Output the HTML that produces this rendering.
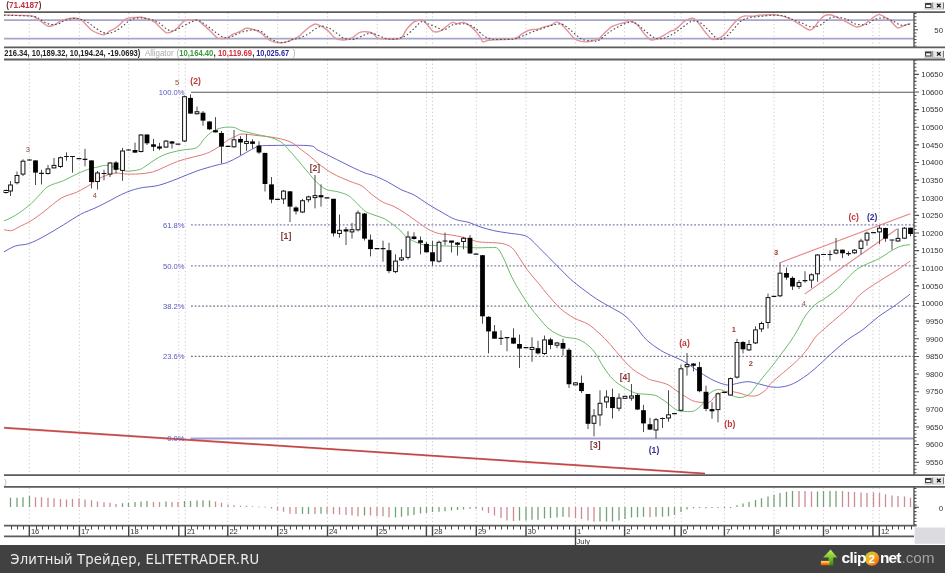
<!DOCTYPE html>
<html><head><meta charset="utf-8"><title>Chart</title><style>html,body{margin:0;padding:0;background:#fff;width:945px;height:573px;overflow:hidden}</style></head><body>
<svg width="945" height="573" viewBox="0 0 945 573" style="display:block">
<rect x="0" y="0" width="945" height="573" fill="#fff"/>
<path d="M29.3 12.8V46.5M29.3 60V474.2M29.3 487.6V525.2M79.4 12.8V46.5M79.4 60V474.2M79.4 487.6V525.2M128.7 12.8V46.5M128.7 60V474.2M128.7 487.6V525.2M178.8 12.8V46.5M178.8 60V474.2M178.8 487.6V525.2M185.3 12.8V46.5M185.3 60V474.2M185.3 487.6V525.2M227.8 12.8V46.5M227.8 60V474.2M227.8 487.6V525.2M277.7 12.8V46.5M277.7 60V474.2M277.7 487.6V525.2M327.5 12.8V46.5M327.5 60V474.2M327.5 487.6V525.2M377.2 12.8V46.5M377.2 60V474.2M377.2 487.6V525.2M426.4 12.8V46.5M426.4 60V474.2M426.4 487.6V525.2M432.5 12.8V46.5M432.5 60V474.2M432.5 487.6V525.2M476.3 12.8V46.5M476.3 60V474.2M476.3 487.6V525.2M526 12.8V46.5M526 60V474.2M526 487.6V525.2M575.5 12.8V46.5M575.5 60V474.2M575.5 487.6V525.2M624.6 12.8V46.5M624.6 60V474.2M624.6 487.6V525.2M674.6 12.8V46.5M674.6 60V474.2M674.6 487.6V525.2M681.2 12.8V46.5M681.2 60V474.2M681.2 487.6V525.2M724.4 12.8V46.5M724.4 60V474.2M724.4 487.6V525.2M774 12.8V46.5M774 60V474.2M774 487.6V525.2M823.5 12.8V46.5M823.5 60V474.2M823.5 487.6V525.2M872.9 12.8V46.5M872.9 60V474.2M872.9 487.6V525.2M879.3 12.8V46.5M879.3 60V474.2M879.3 487.6V525.2" stroke="#cacaca" stroke-width="1" stroke-dasharray="1.2 2.5" fill="none"/>
<g id="osc">
<path d="M4 20.1H914M4 38.6H914" stroke="#a6a6cc" stroke-width="1.8" fill="none"/>
<path d="M4 15.1C8.42 15.18 25.1 15.08 30.5 15.6C35.9 16.12 34.43 17.07 36.4 18.2C38.37 19.33 40.32 21.05 42.3 22.4C44.28 23.75 46.32 25.88 48.3 26.3C50.28 26.72 52.52 25.55 54.2 24.9C55.88 24.25 56.85 23.23 58.4 22.4C59.95 21.57 61.38 20.6 63.5 19.9C65.62 19.2 68.98 18.48 71.1 18.2C73.22 17.92 74.5 17.92 76.2 18.2C77.9 18.48 79.6 18.78 81.3 19.9C83 21.02 84.72 23.22 86.4 24.9C88.08 26.58 89.43 28.58 91.4 30C93.37 31.42 96.08 32.6 98.2 33.4C100.32 34.2 102.12 35.22 104.1 34.8C106.08 34.38 108.27 31.98 110.1 30.9C111.93 29.82 113.27 29.58 115.1 28.3C116.93 27.02 119.4 24.75 121.1 23.2C122.8 21.65 123.75 19.9 125.3 19C126.85 18.1 127.87 18.08 130.4 17.8C132.93 17.52 137.68 17.1 140.5 17.3C143.32 17.5 145.72 18.63 147.3 19C148.88 19.37 148.7 18.93 150 19.5C151.3 20.07 153.4 21.07 155.1 22.4C156.8 23.73 158.37 25.8 160.2 27.5C162.03 29.2 164.13 31.9 166.1 32.6C168.07 33.3 170.03 32.55 172 31.7C173.97 30.85 175.92 29.25 177.9 27.5C179.88 25.75 182.07 22.42 183.9 21.2C185.73 19.98 186.65 20.37 188.9 20.2C191.15 20.03 195.13 19.55 197.4 20.2C199.67 20.85 200.52 22.47 202.5 24.1C204.48 25.73 206.9 27.75 209.3 30C211.7 32.25 214.65 36.18 216.9 37.6C219.15 39.02 220.97 38.5 222.8 38.5C224.63 38.5 226.2 38.32 227.9 37.6C229.6 36.88 231.03 35.18 233 34.2C234.97 33.22 237.45 32.68 239.7 31.7C241.95 30.72 243.95 28.58 246.5 28.3C249.05 28.02 252.45 29.15 255 30C257.55 30.85 259.83 31.98 261.8 33.4C263.77 34.82 264.83 37.08 266.8 38.5C268.77 39.92 270.82 41.22 273.6 41.9C276.38 42.58 280.72 42.83 283.5 42.6C286.28 42.37 288.32 41.2 290.3 40.5C292.28 39.8 293.7 39.32 295.4 38.4C297.1 37.48 298.67 36.48 300.5 35C302.33 33.52 304.57 31.05 306.4 29.5C308.23 27.95 310.02 26.62 311.5 25.7C312.98 24.78 314.03 24.08 315.3 24C316.57 23.92 317.62 24.57 319.1 25.2C320.58 25.83 322.5 26.67 324.2 27.8C325.9 28.93 327.75 30.52 329.3 32C330.85 33.48 332.1 35.5 333.5 36.7C334.9 37.9 335.67 38.68 337.7 39.2C339.73 39.72 343.23 40.07 345.7 39.8C348.17 39.53 350.23 38.8 352.5 37.6C354.77 36.4 357.05 33.58 359.3 32.6C361.55 31.62 363.75 31.57 366 31.7C368.25 31.83 370.82 32.33 372.8 33.4C374.78 34.47 375.63 37.17 377.9 38.1C380.17 39.03 383.58 38.8 386.4 39C389.22 39.2 392.27 39.53 394.8 39.3C397.33 39.07 399.62 39.28 401.6 37.6C403.58 35.92 404.73 31.73 406.7 29.2C408.67 26.67 411.43 23.9 413.4 22.4C415.37 20.9 416.8 20.48 418.5 20.2C420.2 19.92 421.9 19.63 423.6 20.7C425.3 21.77 427 24.77 428.7 26.6C430.4 28.43 431.83 30.98 433.8 31.7C435.77 32.42 438.25 31.88 440.5 30.9C442.75 29.92 445.32 27.22 447.3 25.8C449.28 24.38 450.82 22.77 452.4 22.4C453.98 22.03 454.95 23.6 456.8 23.6C458.65 23.6 461.53 22.18 463.5 22.4C465.47 22.62 466.62 23.48 468.6 24.9C470.58 26.32 473.42 28.78 475.4 30.9C477.38 33.02 479.23 35.77 480.5 37.6C481.77 39.43 481.6 41.47 483 41.9C484.4 42.33 486.5 40.55 488.9 40.2C491.3 39.85 494.28 39.95 497.4 39.8C500.52 39.65 504.5 39.58 507.6 39.3C510.7 39.02 513.47 39.08 516 38.1C518.53 37.12 520.53 34.75 522.8 33.4C525.07 32.05 527.07 30.7 529.6 30C532.13 29.3 535.47 29.77 538 29.2C540.53 28.63 542.53 27.32 544.8 26.6C547.07 25.88 549.62 25.68 551.6 24.9C553.58 24.12 555 21.95 556.7 21.9C558.4 21.85 560.12 23.25 561.8 24.6C563.48 25.95 565.12 28.12 566.8 30C568.48 31.88 570.2 34.2 571.9 35.9C573.6 37.6 574.73 39.2 577 40.2C579.27 41.2 582.68 41.9 585.5 41.9C588.32 41.9 591.65 40.72 593.9 40.2C596.15 39.68 597.23 40 599 38.8C600.77 37.6 602.35 35.03 604.5 33C606.65 30.97 609.55 28.08 611.9 26.6C614.25 25.12 616.35 24.8 618.6 24.1C620.85 23.4 623.57 22.97 625.4 22.4C627.23 21.83 628.18 20.7 629.6 20.7C631.02 20.7 632.35 21.42 633.9 22.4C635.45 23.38 637.22 24.77 638.9 26.6C640.58 28.43 642.02 31.2 644 33.4C645.98 35.6 648.53 38.95 650.8 39.8C653.07 40.65 655.35 39.28 657.6 38.5C659.85 37.72 662.05 36.37 664.3 35.1C666.55 33.83 669.4 31.75 671.1 30.9C672.8 30.05 673.08 30.85 674.5 30C675.92 29.15 677.9 27.27 679.6 25.8C681.3 24.33 682.73 22.47 684.7 21.2C686.67 19.93 689.72 18.57 691.4 18.2C693.08 17.83 693.38 17.88 694.8 19C696.22 20.12 698.2 22.78 699.9 24.9C701.6 27.02 703.02 29.35 705 31.7C706.98 34.05 709.55 37.87 711.8 39C714.05 40.13 716.25 39.43 718.5 38.5C720.75 37.57 723.32 35.23 725.3 33.4C727.28 31.57 728.42 29.75 730.4 27.5C732.38 25.25 734.95 21.8 737.2 19.9C739.45 18 741.37 16.7 743.9 16.1C746.43 15.5 749.88 16.45 752.4 16.3C754.92 16.15 755.8 15.45 759 15.2C762.2 14.95 768 14.73 771.6 14.8C775.2 14.87 777.9 15.08 780.6 15.6C783.3 16.12 785.4 16.92 787.8 17.9C790.2 18.88 792.6 20.15 795 21.5C797.4 22.85 799.8 24.58 802.2 26C804.6 27.42 807.45 29.7 809.4 30C811.35 30.3 812.4 29.22 813.9 27.8C815.4 26.38 816.75 23.45 818.4 21.5C820.05 19.55 822 17.22 823.8 16.1C825.6 14.98 827.42 14.8 829.2 14.8C830.98 14.8 832.42 15.28 834.5 16.1C836.58 16.92 839.3 18.5 841.7 19.7C844.1 20.9 846.5 22.1 848.9 23.3C851.3 24.5 853.7 26.6 856.1 26.9C858.5 27.2 860.9 26.3 863.3 25.1C865.7 23.9 868.1 21.42 870.5 19.7C872.9 17.98 875.6 15.4 877.7 14.8C879.8 14.2 881 15.13 883.1 16.1C885.2 17.07 887.9 18.65 890.3 20.6C892.7 22.55 895.4 26.9 897.5 27.8C899.6 28.7 900.8 26.75 902.9 26C905 25.25 908.9 23.75 910.1 23.3" stroke="#e4959b" stroke-width="1.4" fill="none" stroke-linejoin="round"/>
<path d="M4 15.1C8.98 15.33 27.8 15.7 33.9 16.5C40 17.3 38.07 18.63 40.6 19.9C43.13 21.17 46.27 23.4 49.1 24.1C51.93 24.8 55.07 24.67 57.6 24.1C60.13 23.53 61.77 21.63 64.3 20.7C66.83 19.77 70.25 18.78 72.8 18.5C75.35 18.22 77.33 18.5 79.6 19C81.87 19.5 83.87 20.08 86.4 21.5C88.93 22.92 91.98 25.65 94.8 27.5C97.62 29.35 100.75 31.67 103.3 32.6C105.85 33.53 107.57 33.67 110.1 33.1C112.63 32.53 115.97 30.7 118.5 29.2C121.03 27.7 123.32 25.65 125.3 24.1C127.28 22.55 127.87 20.95 130.4 19.9C132.93 18.85 137.12 17.87 140.5 17.8C143.88 17.73 147.7 18.73 150.7 19.5C153.7 20.27 155.8 20.78 158.5 22.4C161.2 24.02 164.37 27.78 166.9 29.2C169.43 30.62 171.15 31.33 173.7 30.9C176.25 30.47 179.38 28.02 182.2 26.6C185.02 25.18 188.07 23.47 190.6 22.4C193.13 21.33 194.85 19.78 197.4 20.2C199.95 20.62 202.8 22.83 205.9 24.9C209 26.97 212.9 30.48 216 32.6C219.1 34.72 221.67 37.05 224.5 37.6C227.33 38.15 229.9 36.88 233 35.9C236.1 34.92 239.72 32.68 243.1 31.7C246.48 30.72 250.18 30 253.3 30C256.42 30 259.27 30.43 261.8 31.7C264.33 32.97 265.72 35.85 268.5 37.6C271.28 39.35 275.85 41.43 278.5 42.2C281.15 42.97 282.72 42.35 284.4 42.2C286.08 42.05 287.33 41.73 288.6 41.3C289.87 40.87 290.73 40.02 292 39.6C293.27 39.18 294.5 39.22 296.2 38.8C297.9 38.38 300.35 37.8 302.2 37.1C304.05 36.4 305.9 35.38 307.3 34.6C308.7 33.82 309.4 33.25 310.6 32.4C311.8 31.55 313.3 30.33 314.5 29.5C315.7 28.67 316.6 27.97 317.8 27.4C319 26.83 320.35 26.18 321.7 26.1C323.05 26.02 324.63 26.55 325.9 26.9C327.17 27.25 328.1 27.57 329.3 28.2C330.5 28.83 331.83 29.85 333.1 30.7C334.37 31.55 335.7 32.45 336.9 33.3C338.1 34.15 339.17 34.95 340.3 35.8C341.43 36.65 342.08 37.83 343.7 38.4C345.32 38.97 348.25 39.05 350 39.2C351.75 39.35 351.82 39.98 354.2 39.3C356.58 38.62 361.48 36.13 364.3 35.1C367.12 34.07 368.55 32.97 371.1 33.1C373.65 33.23 376.78 34.92 379.6 35.9C382.42 36.88 384.9 38.57 388 39C391.1 39.43 395.08 39.15 398.2 38.5C401.32 37.85 403.88 36.93 406.7 35.1C409.52 33.27 412.57 29.77 415.1 27.5C417.63 25.23 419.63 22.07 421.9 21.5C424.17 20.93 426.15 23.1 428.7 24.1C431.25 25.1 434.67 26.52 437.2 27.5C439.73 28.48 441.37 30.43 443.9 30C446.43 29.57 449.97 25.88 452.4 24.9C454.83 23.92 456.08 24.23 458.5 24.1C460.92 23.97 464.08 23.4 466.9 24.1C469.72 24.8 472.57 26.33 475.4 28.3C478.23 30.27 481.08 34.07 483.9 35.9C486.72 37.73 488.92 38.73 492.3 39.3C495.68 39.87 500.53 39.35 504.2 39.3C507.87 39.25 511.2 39.57 514.3 39C517.4 38.43 519.68 37.12 522.8 35.9C525.92 34.68 529.62 32.97 533 31.7C536.38 30.43 539.72 29.43 543.1 28.3C546.48 27.17 550.18 25.6 553.3 24.9C556.42 24.2 559.27 23.53 561.8 24.1C564.33 24.67 566.25 26.62 568.5 28.3C570.75 29.98 573.03 32.37 575.3 34.2C577.57 36.03 579.28 38.17 582.1 39.3C584.92 40.43 589.38 40.85 592.2 41C595.02 41.15 596.28 41.6 599 40.2C601.72 38.8 605.23 34.87 608.5 32.6C611.77 30.33 615.22 28.3 618.6 26.6C621.98 24.9 625.97 22.97 628.8 22.4C631.63 21.83 633.07 21.93 635.6 23.2C638.13 24.47 640.9 27.6 644 30C647.1 32.4 651.1 36.18 654.2 37.6C657.3 39.02 659.78 38.92 662.6 38.5C665.42 38.08 667.98 36.8 671.1 35.1C674.22 33.4 677.92 30.57 681.3 28.3C684.68 26.03 688.3 22.48 691.4 21.5C694.5 20.52 697.07 20.98 699.9 22.4C702.73 23.82 705.58 27.32 708.4 30C711.22 32.68 714.27 37.08 716.8 38.5C719.33 39.92 721.05 39.77 723.6 38.5C726.15 37.23 729.28 33.73 732.1 30.9C734.92 28.07 737.68 23.68 740.5 21.5C743.32 19.32 745.75 18.63 749 17.8C752.25 16.97 755.93 16.93 760 16.5C764.07 16.07 769.37 15.27 773.4 15.2C777.43 15.13 780.9 15.35 784.2 16.1C787.5 16.85 790.2 18.5 793.2 19.7C796.2 20.9 799.2 22.1 802.2 23.3C805.2 24.5 808.2 26.6 811.2 26.9C814.2 27.2 817.5 26.3 820.2 25.1C822.9 23.9 825.02 21.05 827.4 19.7C829.78 18.35 831.52 17.15 834.5 17C837.48 16.85 841.7 17.6 845.3 18.8C848.9 20 852.5 23.3 856.1 24.2C859.7 25.1 863.9 24.95 866.9 24.2C869.9 23.45 871.4 20.75 874.1 19.7C876.8 18.65 880.1 17.75 883.1 17.9C886.1 18.05 889.1 19.4 892.1 20.6C895.1 21.8 898.1 24.5 901.1 25.1C904.1 25.7 908.6 24.35 910.1 24.2" stroke="#4a4a4a" stroke-width="1.1" stroke-dasharray="1.6 2.2" fill="none"/>
</g>
<path d="M4 12.1H945M4 47.4H945M4 59.5H945M4 475.2H945M4 486.9H945M4 525.7H916.5M4 536.4H914" stroke="#5c5c5c" stroke-width="1.8" fill="none"/>
<path d="M191 92.3H914" stroke="#555" stroke-width="1.1" fill="none"/>
<path d="M191 224.9H914M191 265.8H914" stroke="#7e7eac" stroke-width="1.3" stroke-dasharray="1.8 1.9" fill="none"/>
<path d="M191 306.2H914M191 356.4H914" stroke="#72728a" stroke-width="1.3" stroke-dasharray="1.8 1.9" fill="none"/>
<path d="M190.5 438.5H914" stroke="#a2a2d8" stroke-width="1.8" fill="none"/>
<path d="M4 427.9L705 473.8" stroke="#e84848" stroke-width="1.5" fill="none"/>
<path d="M4 427.2L705 473.1" stroke="#5a2424" stroke-width="0.8" fill="none" opacity="0.6"/>
<path d="M4 251.8C5.9 250.83 11.27 247.37 15.4 246C19.53 244.63 24 245.22 28.8 243.6C33.6 241.98 38.43 239.42 44.2 236.3C49.97 233.18 57.33 228.57 63.4 224.9C69.47 221.23 75.17 217.18 80.6 214.3C86.03 211.42 90.93 209.98 96 207.6C101.07 205.22 106.77 202.18 111 200C115.23 197.82 117.92 196.12 121.4 194.5C124.88 192.88 128.4 191.45 131.9 190.3C135.4 189.15 137.98 188.42 142.4 187.6C146.82 186.78 152.53 186.88 158.4 185.4C164.27 183.92 171.2 181.1 177.6 178.7C184 176.3 190.4 173.23 196.8 171C203.2 168.77 210.88 166.73 216 165.3C221.12 163.87 223.67 163.85 227.5 162.4C231.33 160.95 235.4 158.53 239 156.6C242.6 154.67 245.92 152.52 249.1 150.8C252.28 149.08 255.83 147.17 258.1 146.3C260.37 145.43 254.37 145.72 262.7 145.6C271.03 145.48 299.03 144.92 308.1 145.6C317.17 146.28 313.33 147.88 317.1 149.7C320.87 151.52 326.53 154.42 330.7 156.5C334.87 158.58 338.32 160.32 342.1 162.2C345.88 164.08 349.58 166 353.4 167.8C357.22 169.6 361.63 171.72 365 173C368.37 174.28 369.9 174.07 373.6 175.5C377.3 176.93 382.67 179.27 387.2 181.6C391.73 183.93 396.27 187.23 400.8 189.5C405.33 191.77 409.85 192.75 414.4 195.2C418.95 197.65 423.55 201.37 428.1 204.2C432.65 207.03 437.17 209.67 441.7 212.2C446.23 214.73 450.77 217.7 455.3 219.4C459.83 221.1 464.78 221.17 468.9 222.4C473.02 223.63 475.88 225.43 480 226.8C484.12 228.17 489.07 229.58 493.6 230.6C498.13 231.62 502.28 232.13 507.2 232.9C512.12 233.67 519.32 234.25 523.1 235.2C526.88 236.15 527.25 236.53 529.9 238.6C532.55 240.67 535.97 244.58 539 247.6C542.03 250.62 544.7 253.28 548.1 256.7C551.5 260.12 555.63 264.32 559.4 268.1C563.17 271.88 566.92 276 570.7 279.4C574.48 282.8 577.77 285.22 582.1 288.5C586.43 291.78 592 296.02 596.7 299.1C601.4 302.18 605.75 304.35 610.3 307C614.85 309.65 619.83 311.78 624 315C628.17 318.22 631.53 322.15 635.3 326.3C639.07 330.45 642.43 335.93 646.6 339.9C650.77 343.87 656.13 347.45 660.3 350.1C664.47 352.75 668.25 354.22 671.6 355.8C674.95 357.38 677.48 358.12 680.4 359.6C683.32 361.08 685.77 362.53 689.1 364.7C692.43 366.87 696.25 369.95 700.4 372.6C704.55 375.25 709.45 378.52 714 380.6C718.55 382.68 723.92 384.62 727.7 385.1C731.48 385.58 733.3 384.07 736.7 383.5C740.1 382.93 744.32 381.62 748.1 381.7C751.88 381.78 755.62 383.13 759.4 384C763.18 384.87 767.02 386.42 770.8 386.9C774.58 387.38 778.32 387.47 782.1 386.9C785.88 386.33 789.33 385.48 793.5 383.5C797.67 381.52 802.57 378.33 807.1 375C811.63 371.67 816.65 367.08 820.7 363.5C824.75 359.92 826.98 357.42 831.4 353.5C835.82 349.58 841.95 343.98 847.2 340C852.45 336.02 857.67 333.52 862.9 329.6C868.13 325.68 873.37 320.43 878.6 316.5C883.83 312.57 889.07 309.72 894.3 306C899.53 302.28 907.38 296.17 910 294.2" stroke="#6464c8" stroke-width="1" fill="none" stroke-linejoin="round"/>
<path d="M4 229.7C5.25 229.85 8.97 231.08 11.5 230.6C14.03 230.12 16 228.4 19.2 226.8C22.4 225.2 26.53 223.57 30.7 221C34.87 218.43 39.08 215.23 44.2 211.4C49.32 207.57 55.97 201.2 61.4 198C66.83 194.8 72 194.43 76.8 192.2C81.6 189.97 87.13 186.5 90.2 184.6C93.27 182.7 92.62 182.3 95.2 180.8C97.78 179.3 102.2 176.9 105.7 175.6C109.2 174.3 113.05 173.27 116.2 173C119.35 172.73 120.77 173.85 124.6 174C128.43 174.15 134.53 174.23 139.2 173.9C143.87 173.57 148.43 173.12 152.6 172C156.77 170.88 160.03 168.97 164.2 167.2C168.37 165.43 173.13 163 177.6 161.4C182.07 159.8 186.83 158.72 191 157.6C195.17 156.48 199.4 155.67 202.6 154.7C205.8 153.73 207.33 153.23 210.2 151.8C213.07 150.37 216.92 148.02 219.8 146.1C222.68 144.18 224.93 141.9 227.5 140.3C230.07 138.7 232.78 137.55 235.2 136.5C237.62 135.45 238.55 134.18 242 134C245.45 133.82 250.93 134.87 255.9 135.4C260.87 135.93 267.27 136.52 271.8 137.2C276.33 137.88 279.7 138.55 283.1 139.5C286.5 140.45 289.17 141.2 292.2 142.9C295.23 144.6 298.28 147.43 301.3 149.7C304.32 151.97 307.28 154.05 310.3 156.5C313.32 158.95 316 161.75 319.4 164.4C322.8 167.05 326.92 170.12 330.7 172.4C334.48 174.68 338.32 176.4 342.1 178.1C345.88 179.8 350.08 181.28 353.4 182.6C356.72 183.92 359.02 184.1 362 186C364.98 187.9 367.85 191.33 371.3 194C374.75 196.67 378.92 199.92 382.7 202C386.48 204.08 390.22 204.62 394 206.5C397.78 208.38 401.62 210.83 405.4 213.3C409.18 215.77 412.92 218.65 416.7 221.3C420.48 223.95 424.32 227.13 428.1 229.2C431.88 231.27 435.63 232.75 439.4 233.7C443.17 234.65 446.92 234.33 450.7 234.9C454.48 235.47 458.32 236.17 462.1 237.1C465.88 238.03 470.42 239.68 473.4 240.5C476.38 241.32 477.02 241.65 480 242C482.98 242.35 487.52 242.33 491.3 242.6C495.08 242.87 499.28 242.77 502.7 243.6C506.12 244.43 509.15 245.42 511.8 247.6C514.45 249.78 515.97 252.92 518.6 256.7C521.23 260.48 524.2 265.77 527.6 270.3C531 274.83 535.6 279.78 539 283.9C542.4 288.02 544.43 290.9 548 295C551.57 299.1 556.07 304.67 560.4 308.5C564.73 312.33 569.45 315.42 574 318C578.55 320.58 583.53 321.48 587.7 324C591.87 326.52 595.23 329.68 599 333.1C602.77 336.52 606.52 340.33 610.3 344.5C614.08 348.67 617.92 353.95 621.7 358.1C625.48 362.25 628.85 366.12 633 369.4C637.15 372.68 643.62 376.05 646.6 377.8C649.58 379.55 648.43 379.12 650.9 379.9C653.37 380.68 658.43 381.63 661.4 382.5C664.37 383.37 666.25 383.78 668.7 385.1C671.15 386.42 673.82 388.82 676.1 390.4C678.38 391.98 679.97 393.03 682.4 394.6C684.83 396.17 688.27 398.58 690.7 399.8C693.13 401.02 694.9 401.47 697 401.9C699.1 402.33 701.13 402.4 703.3 402.4C705.47 402.4 707.88 403.07 710 401.9C712.12 400.73 713.62 397.1 716 395.4C718.38 393.7 721.52 392.32 724.3 391.7C727.08 391.08 730.08 391.43 732.7 391.7C735.32 391.97 737.2 392.6 740 393.3C742.8 394 746.53 395.58 749.5 395.9C752.47 396.22 755.02 396.27 757.8 395.2C760.58 394.13 764.05 391.43 766.2 389.5C768.35 387.57 767.85 386.42 770.7 383.6C773.55 380.78 779.37 376 783.3 372.6C787.23 369.2 791.15 366.08 794.3 363.2C797.45 360.32 799.83 357.92 802.2 355.3C804.57 352.68 806.42 350.38 808.5 347.5C810.58 344.62 812.35 340.88 814.7 338C817.05 335.12 819.03 333.43 822.6 330.2C826.17 326.97 831.48 322.63 836.1 318.6C840.72 314.57 846.37 309.93 850.3 306C854.23 302.07 856.03 298.4 859.7 295C863.37 291.6 868.12 288.48 872.3 285.6C876.48 282.72 880.62 280.32 884.8 277.7C888.98 275.08 893.2 272.65 897.4 269.9C901.6 267.15 907.9 262.65 910 261.2" stroke="#e27676" stroke-width="1" fill="none" stroke-linejoin="round"/>
<path d="M4 221C5.9 220.05 11.27 217.85 15.4 215.3C19.53 212.75 24.97 208.9 28.8 205.7C32.63 202.5 35.2 199.3 38.4 196.1C41.6 192.9 43.83 189.07 48 186.5C52.17 183.93 58.6 182.78 63.4 180.7C68.2 178.62 72.33 176.02 76.8 174C81.27 171.98 86.83 169.73 90.2 168.6C93.57 167.47 94.42 167.75 97 167.2C99.58 166.65 102.5 165.22 105.7 165.3C108.9 165.38 113.05 166.77 116.2 167.7C119.35 168.63 121.98 170.37 124.6 170.9C127.22 171.43 129.28 171.17 131.9 170.9C134.52 170.63 138.12 170.03 140.3 169.3C142.48 168.57 141.98 168.45 145 166.5C148.02 164.55 154.25 159.88 158.4 157.6C162.55 155.32 165.73 154.08 169.9 152.8C174.07 151.52 178.92 150.77 183.4 149.9C187.88 149.03 193.28 149.52 196.8 147.6C200.32 145.68 201.93 141.05 204.5 138.4C207.07 135.75 209.32 133.47 212.2 131.7C215.08 129.93 218.28 128.53 221.8 127.8C225.32 127.07 230.1 126.85 233.3 127.3C236.5 127.75 237.62 129.42 241 130.5C244.38 131.58 248.85 132.68 253.6 133.8C258.35 134.92 264.97 135.87 269.5 137.2C274.03 138.53 277.78 139.9 280.8 141.8C283.82 143.7 284.95 145.77 287.6 148.6C290.25 151.43 293.28 154.83 296.7 158.8C300.12 162.77 304.7 168.43 308.1 172.4C311.5 176.37 314.08 179.77 317.1 182.6C320.12 185.43 322.8 187.88 326.2 189.4C329.6 190.92 333.98 190.77 337.5 191.7C341.02 192.63 344.8 193.78 347.3 195C349.8 196.22 350.78 197.52 352.5 199C354.22 200.48 356.02 202.32 357.6 203.9C359.18 205.48 360.52 207.13 362 208.5C363.48 209.87 364.5 211.02 366.5 212.1C368.5 213.18 371.03 213.9 374 215C376.97 216.1 381.1 217.08 384.3 218.7C387.5 220.32 390.45 222.65 393.2 224.7C395.95 226.75 398.83 229.15 400.8 231C402.77 232.85 403.1 234.22 405 235.8C406.9 237.38 409.12 239 412.2 240.5C415.28 242 419.72 243.95 423.5 244.8C427.28 245.65 430.37 245.37 434.9 245.6C439.43 245.83 445.78 245.97 450.7 246.2C455.62 246.43 460.62 246.75 464.4 247C468.18 247.25 470.8 247.57 473.4 247.7C476 247.83 477.02 247.82 480 247.8C482.98 247.78 488.28 247.43 491.3 247.6C494.32 247.77 495.82 246.52 498.1 248.8C500.38 251.08 502.72 256.58 505 261.3C507.28 266.02 509.17 271.82 511.8 277.1C514.43 282.38 517.78 288.08 520.8 293C523.82 297.92 526.87 302.43 529.9 306.6C532.93 310.77 535.8 314.27 539 318C542.2 321.73 545.15 325.92 549.1 329C553.05 332.08 558.17 334.87 562.7 336.5C567.23 338.13 572.52 337.67 576.3 338.8C580.08 339.93 582.37 341.1 585.4 343.3C588.43 345.5 591.48 348.05 594.5 352C597.52 355.95 600.48 362.5 603.5 367C606.52 371.5 609.18 375.58 612.6 379C616.02 382.42 620.22 385.17 624 387.5C627.78 389.83 631.68 391.88 635.3 393C638.92 394.12 642.4 393.82 645.7 394.2C649 394.58 652.48 394.55 655.1 395.3C657.72 396.05 659.13 397.25 661.4 398.7C663.67 400.15 666.25 402.17 668.7 404C671.15 405.83 673.82 408.48 676.1 409.7C678.38 410.92 679.62 411.03 682.4 411.3C685.18 411.57 690.18 411.82 692.8 411.3C695.42 410.78 696.35 409.55 698.1 408.2C699.85 406.85 701.72 405.33 703.3 403.2C704.88 401.07 705.85 397.48 707.6 395.4C709.35 393.32 711.72 391.67 713.8 390.7C715.88 389.73 718 389.35 720.1 389.6C722.2 389.85 724.48 391.23 726.4 392.2C728.32 393.17 729.5 394.52 731.6 395.4C733.7 396.28 736.72 397.33 739 397.5C741.28 397.67 743.38 397.1 745.3 396.4C747.22 395.7 748.77 394.95 750.5 393.3C752.23 391.65 753.63 389.17 755.7 386.5C757.77 383.83 760.4 380.4 762.9 377.3C765.4 374.2 767.82 371.57 770.7 367.9C773.58 364.23 777.05 359.5 780.2 355.3C783.35 351.1 786.72 346.88 789.6 342.7C792.48 338.52 794.88 334.65 797.5 330.2C800.12 325.75 802.43 320.2 805.3 316C808.17 311.8 811.22 308.08 814.7 305C818.18 301.92 822.37 300.22 826.2 297.5C830.03 294.78 834.22 291.87 837.7 288.7C841.18 285.53 843.95 281.68 847.1 278.5C850.25 275.32 853.45 271.95 856.6 269.6C859.75 267.25 862.33 266.18 866 264.4C869.67 262.62 874.42 261.13 878.6 258.9C882.78 256.67 887.45 253.1 891.1 251C894.75 248.9 897.35 247.37 900.5 246.3C903.65 245.23 908.42 244.88 910 244.6" stroke="#6cba6c" stroke-width="1" fill="none" stroke-linejoin="round"/>
<path d="M780.6 262.4L910.2 213.8M804.6 294.1L897 229" stroke="#e68484" stroke-width="1.1" fill="none"/>
<path d="M6 189.5V193.5M10.5 181V196M17 171.5V184.4M23 159.3V176M29.5 159.5V160.5M35.5 160.4V185M41.5 169.8V184.4M48 164.9V174.6M54 158V168.4M60.5 156.5V168M66.5 152.3V160.7M72.5 156.5V172.6M79 158V159M85 148.8V166.3M91.5 160.4V188.4M97.5 171V189.5M104 169.8V180.3M110 162V177M116 161V173.5M122.5 147.9V180.8M128.5 149.5V150.5M135 142.6V152.9M141 134V152.5M147 134.5V145M153.5 138.9V151.1M159.5 142.8V150.3M166 140V148M172 141V148.5M184.5 95.5V142M190.5 94.4V113.6M197 106.6V114.5M203 111V125.8M209.5 121V130M215.5 117.1V132.4M221.5 131V163.4M228 146V147M234 129.9V147.7M240.5 136.2V155M246.5 134V150.8M252.5 139.3V148.7M259 141.4V154M265 152.9V191.5M271.5 177V203.2M277.5 199V200M283.5 190V204M290 191.3V222M296 206.2V214.5M302.5 199V213M308.5 195.7V202.3M315 175V208.4M321 184.4V206.6M327 197.5V198.3M333.5 198.8V236.5M339.5 214.6V237.6M346 227.1V245M352 222.9V238.6M358 210.5V231.5M364.5 213V240.5M370.5 234.5V256.4M377 248.3V249M383 240.7V261.7M389 242.8V273.2M395.5 254.3V273.2M401.5 249.2V261M408 231.3V259.6M414 232.3V239.6M420.5 236.5V254.3M426.5 241.8V252.3M432.5 240.7V265.9M439 240.7V262.6M445 232.6V245M451.5 241V252.5M457.5 242V255.6M463.5 236.8V249.3M470 235V253.5M476 253.8V254.5M482.5 255.2V323.7M488.5 316.3V353.4M494.5 325V338.7M501 330.4V345M507 337.7V351.3M513.5 328.3V344M519.5 334.6V368M526 347.3V348M532 337.3V361.8M538 340.8V354.5M544.5 335.6V354.9M550.5 337.7V349.2M557 341.9V348.2M563 338.7V355.5M569 348.2V388M575.5 382.5V385.2M581.5 375.5V393M588 394V429M594 409.1V436.3M600 390.3V425.9M606.5 390.3V408.1M612.5 388.6V418.5M619 393.4V411.2M625 395.5V399M631.5 384V400.7M637.5 393.8V410M643.5 404.9V432.1M650 417.9V430M656 417.9V438.4M662.5 417.5V428M668.5 390.3V421.7M674.5 413.3V414M681 364.7V411.2M687 353V375.6M693.5 363V371.3M699.5 361.9V392.3M706 385.7V411.3M712 402.2V418.7M718 392.4V422.3M724.5 392V393M730.5 377.6V395.5M737 338.8V378.6M743 341V353.5M749 340V351M755.5 326.3V344M761.5 321.6V332M768 293.6V328.5M774 296V296.6M780 262.2V297.1M786.5 267.5V279.7M792.5 276.4V290M799 280V289M805 271.2V282.7M811.5 273.3V288M817.5 254V281.7M823.5 254.2V254.8M830 250.3V260.7M836 237.9V254.4M842.5 249.5V258M848.5 251.3V256M854.5 249V254M861 238.7V254.4M867 231.6V245.8M879.5 225.3V244.2M885.5 227.7V241.8M892 240V249.7M898 228.5V241.8M904.5 227V239M910.5 227.7V236.3" stroke="#4a4a4a" stroke-width="1" fill="none"/>
<g fill="#000"><rect x="33.1" y="160.4" width="4.8" height="12.2"/><rect x="89.1" y="160.4" width="4.8" height="21.6"/><rect x="113.6" y="162.5" width="4.8" height="7.3"/><rect x="132.6" y="150" width="4.8" height="2.6"/><rect x="144.6" y="134.5" width="4.8" height="8.8"/><rect x="151.1" y="144.3" width="4.8" height="2.5"/><rect x="157.1" y="146.4" width="4.8" height="2.2"/><rect x="169.6" y="141.4" width="4.8" height="2.2"/><rect x="188.1" y="97.9" width="4.8" height="15.7"/><rect x="200.6" y="112.7" width="4.8" height="7.9"/><rect x="207.1" y="121.5" width="4.8" height="7.8"/><rect x="213.1" y="130.2" width="4.8" height="2.2"/><rect x="219.1" y="133" width="4.8" height="13.6"/><rect x="238.1" y="138.9" width="4.8" height="3.6"/><rect x="250.1" y="141.4" width="4.8" height="2.5"/><rect x="256.6" y="145.6" width="4.8" height="6.9"/><rect x="262.6" y="152.9" width="4.8" height="31.1"/><rect x="269.1" y="184.4" width="4.8" height="15.2"/><rect x="287.6" y="191.3" width="4.8" height="15.3"/><rect x="293.6" y="207.5" width="4.8" height="3.9"/><rect x="318.6" y="195.15" width="4.8" height="2.2"/><rect x="331.1" y="198.8" width="4.8" height="34.6"/><rect x="343.6" y="229.3" width="4.8" height="2.2"/><rect x="362.1" y="213.5" width="4.8" height="25.1"/><rect x="368.1" y="239.7" width="4.8" height="9.4"/><rect x="386.6" y="250.2" width="4.8" height="20.9"/><rect x="411.6" y="236.5" width="4.8" height="2.5"/><rect x="418.1" y="240.3" width="4.8" height="2.5"/><rect x="424.1" y="243.9" width="4.8" height="8.4"/><rect x="430.1" y="252.3" width="4.8" height="9"/><rect x="449.1" y="240.5" width="4.8" height="2.2"/><rect x="455.1" y="242.55" width="4.8" height="2.2"/><rect x="467.6" y="237.8" width="4.8" height="15.7"/><rect x="480.1" y="255.2" width="4.8" height="61.1"/><rect x="486.1" y="316.8" width="4.8" height="14.6"/><rect x="492.1" y="331.4" width="4.8" height="7.3"/><rect x="511.1" y="337.7" width="4.8" height="5.9"/><rect x="517.1" y="344" width="4.8" height="4.6"/><rect x="535.6" y="348.2" width="4.8" height="5.2"/><rect x="548.1" y="339.4" width="4.8" height="5.6"/><rect x="560.6" y="343" width="4.8" height="5.6"/><rect x="566.6" y="349.8" width="4.8" height="34.4"/><rect x="579.1" y="382.9" width="4.8" height="8.2"/><rect x="585.6" y="394" width="4.8" height="29.8"/><rect x="610.1" y="397" width="4.8" height="11.1"/><rect x="635.1" y="394.9" width="4.8" height="14.6"/><rect x="641.1" y="410.2" width="4.8" height="13.2"/><rect x="647.6" y="424.2" width="4.8" height="5.4"/><rect x="691.1" y="363.55" width="4.8" height="2.2"/><rect x="697.1" y="367.1" width="4.8" height="24.1"/><rect x="703.6" y="391.8" width="4.8" height="17.1"/><rect x="709.6" y="409.1" width="4.8" height="2.2"/><rect x="740.6" y="342" width="4.8" height="7.3"/><rect x="784.1" y="273" width="4.8" height="4.6"/><rect x="790.1" y="277.9" width="4.8" height="8.6"/><rect x="840.1" y="249.7" width="4.8" height="3.6"/><rect x="883.1" y="228" width="4.8" height="10.7"/><rect x="908.1" y="227.7" width="4.8" height="6.3"/></g>
<g fill="#fff" stroke="#111" stroke-width="1"><rect x="4.1" y="190.5" width="3.8" height="2"/><rect x="8.6" y="185" width="3.8" height="6"/><rect x="15.1" y="175.5" width="3.8" height="7.2"/><rect x="21.1" y="161.2" width="3.8" height="12.9"/><rect x="46.1" y="168.9" width="3.8" height="4.6"/><rect x="52.1" y="165.4" width="3.8" height="2.5"/><rect x="58.6" y="157.7" width="3.8" height="8.8"/><rect x="95.6" y="173" width="3.8" height="8.5"/><rect x="108.1" y="163" width="3.8" height="11.1"/><rect x="120.6" y="151" width="3.8" height="19.4"/><rect x="139.1" y="135" width="3.8" height="16.5"/><rect x="164.1" y="141.1" width="3.8" height="6"/><rect x="182.6" y="96.7" width="3.8" height="44.3"/><rect x="195.1" y="111.75" width="3.8" height="2"/><rect x="232.1" y="139.8" width="3.8" height="7"/><rect x="244.6" y="141.45" width="3.8" height="2"/><rect x="281.6" y="191.1" width="3.8" height="7.8"/><rect x="300.6" y="200.7" width="3.8" height="11.3"/><rect x="306.6" y="196.9" width="3.8" height="2.8"/><rect x="313.1" y="195.6" width="3.8" height="2"/><rect x="337.6" y="230.3" width="3.8" height="3.2"/><rect x="350.1" y="229.7" width="3.8" height="2.2"/><rect x="356.1" y="213" width="3.8" height="16.8"/><rect x="393.6" y="261.1" width="3.8" height="10.5"/><rect x="399.6" y="257.9" width="3.8" height="2"/><rect x="406.1" y="237" width="3.8" height="20.4"/><rect x="437.1" y="242.3" width="3.8" height="18.9"/><rect x="461.6" y="238.3" width="3.8" height="3.2"/><rect x="530.1" y="347.45" width="3.8" height="2"/><rect x="542.6" y="339.9" width="3.8" height="13.6"/><rect x="555.1" y="343" width="3.8" height="2.2"/><rect x="573.6" y="382.85" width="3.8" height="2"/><rect x="592.1" y="415.9" width="3.8" height="7.4"/><rect x="598.1" y="403.3" width="3.8" height="11.6"/><rect x="604.6" y="397" width="3.8" height="4.9"/><rect x="617.1" y="398.1" width="3.8" height="10.1"/><rect x="623.1" y="396.35" width="3.8" height="2"/><rect x="629.6" y="396" width="3.8" height="2.1"/><rect x="654.1" y="419.7" width="3.8" height="10.3"/><rect x="666.6" y="414.8" width="3.8" height="3.2"/><rect x="679.1" y="368.8" width="3.8" height="41.5"/><rect x="685.1" y="364.6" width="3.8" height="2.1"/><rect x="716.1" y="393.8" width="3.8" height="15.8"/><rect x="728.6" y="378.6" width="3.8" height="16.4"/><rect x="735.1" y="342.5" width="3.8" height="34.6"/><rect x="747.1" y="344.5" width="3.8" height="5.4"/><rect x="753.6" y="329.9" width="3.8" height="13"/><rect x="759.6" y="323.5" width="3.8" height="5.4"/><rect x="766.1" y="297.6" width="3.8" height="24.9"/><rect x="778.1" y="273.2" width="3.8" height="22.6"/><rect x="797.1" y="282.6" width="3.8" height="3.8"/><rect x="809.6" y="274.8" width="3.8" height="5.3"/><rect x="815.6" y="255" width="3.8" height="18.8"/><rect x="834.1" y="250.2" width="3.8" height="2.9"/><rect x="852.6" y="250.2" width="3.8" height="2.6"/><rect x="859.1" y="241.1" width="3.8" height="7.3"/><rect x="865.1" y="233.2" width="3.8" height="6.9"/><rect x="877.6" y="228.2" width="3.8" height="3.7"/><rect x="896.1" y="238.4" width="3.8" height="2.6"/><rect x="902.6" y="228.2" width="3.8" height="10"/></g>
<path d="M27.1 160H31.9M39.1 173.3H43.9M64.1 156.5H68.9M70.1 156.5H74.9M76.6 158.6H81.4M82.6 159.3H87.4M101.6 173.5H106.4M126.1 150H130.9M175.6 144.1H180.4M225.6 146.4H230.4M275.1 199.4H279.9M324.6 197.9H329.4M374.6 248.7H379.4M380.6 248.7H385.4M442.6 241H447.4M473.6 254.1H478.4M498.6 338.3H503.4M504.6 337.7H509.4M523.6 347.7H528.4M660.1 418.5H664.9M672.1 413.7H676.9M722.1 392.4H726.9M771.6 296.3H776.4M802.6 280.6H807.4M821.1 254.5H825.9M827.6 254.5H832.4M846.1 253.6H850.9M871.1 232.7H875.9M889.6 240H894.4" stroke="#111" stroke-width="1.2" fill="none"/>
<g font-family="'Liberation Sans', Arial, sans-serif" font-size="7.6" fill="#5656c4" text-anchor="end">
<text x="184.5" y="95">100.0%</text>
<text x="184.5" y="227.7">61.8%</text>
<text x="184.5" y="268.7">50.0%</text>
<text x="184.5" y="309">38.2%</text>
<text x="184.5" y="359.3">23.6%</text>
<text x="184.5" y="440.9">0.0%</text>
</g>
<g font-family="'Liberation Sans', Arial, sans-serif">
<text x="27.9" y="151.5" fill="#8a4a3a" font-size="7.5" text-anchor="middle">3</text>
<text x="94.8" y="197.8" fill="#8a4a3a" font-size="7.5" text-anchor="middle">4</text>
<text x="177.2" y="84.8" fill="#8a4a3a" font-size="7.5" text-anchor="middle">5</text>
<text x="195.6" y="83.6" fill="#c03838" font-size="8.6" font-weight="bold" text-anchor="middle">(2)</text>
<text x="286" y="239.2" fill="#7e3434" font-size="8.6" font-weight="bold" text-anchor="middle">[1]</text>
<text x="314.9" y="171.3" fill="#7e3434" font-size="8.6" font-weight="bold" text-anchor="middle">[2]</text>
<text x="595.3" y="448" fill="#7e3434" font-size="8.6" font-weight="bold" text-anchor="middle">[3]</text>
<text x="624.9" y="379.9" fill="#7e3434" font-size="8.6" font-weight="bold" text-anchor="middle">[4]</text>
<text x="654" y="453" fill="#303090" font-size="8.6" font-weight="bold" text-anchor="middle">(1)</text>
<text x="684.5" y="345.5" fill="#c03838" font-size="8.6" font-weight="bold" text-anchor="middle">(a)</text>
<text x="729.8" y="426.5" fill="#c03838" font-size="8.6" font-weight="bold" text-anchor="middle">(b)</text>
<text x="733.8" y="332.3" fill="#a03838" font-size="7.5" font-weight="bold" text-anchor="middle">1</text>
<text x="750.8" y="365.8" fill="#a03838" font-size="7.5" font-weight="bold" text-anchor="middle">2</text>
<text x="776.2" y="255.3" fill="#a03838" font-size="7.5" font-weight="bold" text-anchor="middle">3</text>
<text x="803.8" y="306.2" fill="#8a4a3a" font-size="6.5" text-anchor="middle">4</text>
<text x="853.7" y="219.6" fill="#c03838" font-size="8.6" font-weight="bold" text-anchor="middle">(c)</text>
<text x="872.2" y="220.3" fill="#303090" font-size="8.6" font-weight="bold" text-anchor="middle">(2)</text>
</g>
<path d="M10.5 497.7V506.9M17 497.7V506.9M23 497.2V506.9M29.5 496V506.9M122.5 503.3V506.9M128.5 502.8V506.9M135 501.9V506.9M141 501.6V506.9M147 501.1V506.9M166 501.6V506.9M184.5 501.1V506.9M190.5 501.1V506.9M197 500.6V506.9M203 500.2V506.9M209.5 500.6V506.9M302.5 506.9V514.1M308.5 506.9V514.1M321 506.9V513.8M364.5 506.9V515.5M395.5 506.9V517.5M401.5 506.9V516.8M408 506.9V515.8M414 506.9V515.1M420.5 506.9V513.4M426.5 506.9V512.9M432.5 506.9V512.1M439 506.9V511.8M445 506.9V511.2M451.5 506.9V510.4M457.5 506.9V510M463.5 506.9V509.4M470 506.9V508.8M476 506.9V508.8M519.5 506.9V520.6M526 506.9V520.6M532 506.9V519.7M538 506.9V519.7M544.5 506.9V518.5M550.5 506.9V518M557 506.9V517.5M563 506.9V516.8M600 506.9V521.4M606.5 506.9V521.4M612.5 506.9V521.4M619 506.9V520.6M625 506.9V518.9M631.5 506.9V517.5M637.5 506.9V517.2M643.5 506.9V516.8M656 506.9V516.8M662.5 506.9V516.8M668.5 506.9V516.3M674.5 506.9V515.1M681 506.9V512.1M687 506.9V509.6M693.5 506.9V508.3M699.5 506.9V507.9M706 506.9V508.3M712 506.9V508.1M718 506.9V508.1M724.5 506.9V508.3M730.5 506.9V507.9M737 505.3V506.9M743 503.6V506.9M749 501.9V506.9M755.5 499.9V506.9M761.5 498.2V506.9M768 496.5V506.9M774 494.8V506.9M780 493.1V506.9M786.5 491.8V506.9M792.5 490.9V506.9M817.5 491.4V506.9M823.5 490.9V506.9M830 490.9V506.9M836 490.9V506.9" stroke="#74a274" stroke-width="1.3" fill="none"/>
<path d="M35.5 497.2V506.9M41.5 497.2V506.9M48 497.7V506.9M54 498.2V506.9M60.5 498.9V506.9M66.5 499.4V506.9M72.5 498.9V506.9M79 498.5V506.9M85 499.4V506.9M91.5 500.2V506.9M97.5 501.6V506.9M104 502.3V506.9M110 502.8V506.9M116 504V506.9M153.5 501.9V506.9M159.5 501.9V506.9M172 501.9V506.9M178 501.9V506.9M215.5 501.6V506.9M221.5 502.8V506.9M228 504.5V506.9M234 505.3V506.9M240.5 505.7V506.9M246.5 505.7V506.9M252.5 506.2V507M259 506.7V507.5M265 506.7V507.5M271.5 506.9V508.5M277.5 506.9V510.4M283.5 506.9V511.8M290 506.9V513.8M296 506.9V514.1M315 506.9V514.1M327 506.9V513.8M333.5 506.9V514.1M339.5 506.9V514.6M346 506.9V515.1M352 506.9V515.5M358 506.9V516.3M370.5 506.9V515.5M377 506.9V516.3M383 506.9V516.3M389 506.9V517.2M482.5 506.9V510.4M488.5 506.9V512.9M494.5 506.9V515.5M501 506.9V518M507 506.9V520.6M513.5 506.9V520.9M569 506.9V517.2M575.5 506.9V518M581.5 506.9V518.9M588 506.9V520.6M594 506.9V521.4M650 506.9V517.2M799 490.9V506.9M805 490.9V506.9M811.5 491.4V506.9M842.5 490.9V506.9M848.5 491.8V506.9M854.5 492.1V506.9M861 492.6V506.9M867 493.1V506.9M873.5 492.6V506.9M879.5 493.1V506.9M885.5 494.3V506.9M892 495.5V506.9M898 496V506.9M904.5 496.5V506.9M910.5 497.7V506.9" stroke="#cc8c94" stroke-width="1.3" fill="none"/>
<path d="M914.0 12.5V47M914.0 59.8V475M914.0 487V525.5" stroke="#555" stroke-width="1.4" fill="none"/>
<path d="M914.0 60.27h2.5M914.0 63.79h2.5M914.0 67.32h2.5M914.0 70.85h2.5M914.0 74.37h5M914.0 77.9h2.5M914.0 81.42h2.5M914.0 84.95h2.5M914.0 88.47h2.5M914.0 92h5M914.0 95.53h2.5M914.0 99.05h2.5M914.0 102.58h2.5M914.0 106.1h2.5M914.0 109.63h5M914.0 113.15h2.5M914.0 116.68h2.5M914.0 120.21h2.5M914.0 123.73h2.5M914.0 127.26h5M914.0 130.78h2.5M914.0 134.31h2.5M914.0 137.83h2.5M914.0 141.36h2.5M914.0 144.89h5M914.0 148.41h2.5M914.0 151.94h2.5M914.0 155.46h2.5M914.0 158.99h2.5M914.0 162.51h5M914.0 166.04h2.5M914.0 169.57h2.5M914.0 173.09h2.5M914.0 176.62h2.5M914.0 180.14h5M914.0 183.67h2.5M914.0 187.19h2.5M914.0 190.72h2.5M914.0 194.25h2.5M914.0 197.77h5M914.0 201.3h2.5M914.0 204.82h2.5M914.0 208.35h2.5M914.0 211.87h2.5M914.0 215.4h5M914.0 218.93h2.5M914.0 222.45h2.5M914.0 225.98h2.5M914.0 229.5h2.5M914.0 233.03h5M914.0 236.55h2.5M914.0 240.08h2.5M914.0 243.61h2.5M914.0 247.13h2.5M914.0 250.66h5M914.0 254.18h2.5M914.0 257.71h2.5M914.0 261.23h2.5M914.0 264.76h2.5M914.0 268.28h5M914.0 271.81h2.5M914.0 275.34h2.5M914.0 278.86h2.5M914.0 282.39h2.5M914.0 285.91h5M914.0 289.44h2.5M914.0 292.96h2.5M914.0 296.49h2.5M914.0 300.02h2.5M914.0 303.54h5M914.0 307.07h2.5M914.0 310.59h2.5M914.0 314.12h2.5M914.0 317.64h2.5M914.0 321.17h5M914.0 324.7h2.5M914.0 328.22h2.5M914.0 331.75h2.5M914.0 335.27h2.5M914.0 338.8h5M914.0 342.32h2.5M914.0 345.85h2.5M914.0 349.38h2.5M914.0 352.9h2.5M914.0 356.43h5M914.0 359.95h2.5M914.0 363.48h2.5M914.0 367h2.5M914.0 370.53h2.5M914.0 374.06h5M914.0 377.58h2.5M914.0 381.11h2.5M914.0 384.63h2.5M914.0 388.16h2.5M914.0 391.68h5M914.0 395.21h2.5M914.0 398.74h2.5M914.0 402.26h2.5M914.0 405.79h2.5M914.0 409.31h5M914.0 412.84h2.5M914.0 416.36h2.5M914.0 419.89h2.5M914.0 423.42h2.5M914.0 426.94h5M914.0 430.47h2.5M914.0 433.99h2.5M914.0 437.52h2.5M914.0 441.04h2.5M914.0 444.57h5M914.0 448.1h2.5M914.0 451.62h2.5M914.0 455.15h2.5M914.0 458.67h2.5M914.0 462.2h5M914.0 465.72h2.5M914.0 469.25h2.5M914.0 472.78h2.5M914.0 13.5h2.5M914.0 16.75h2.5M914.0 20h2.5M914.0 23.25h2.5M914.0 26.5h2.5M914.0 29.75h4M914.0 33h2.5M914.0 36.25h2.5M914.0 39.5h2.5M914.0 42.75h2.5M914.0 46h2.5M914.0 488.5h2.5M914.0 491.8h2.5M914.0 495.1h2.5M914.0 498.4h2.5M914.0 501.7h2.5M914.0 505h2.5M914.0 508.3h2.5M914.0 511.6h2.5M914.0 514.9h2.5M914.0 518.2h2.5M914.0 521.5h2.5M914.0 524.8h2.5M914.0 507.3h5" stroke="#505050" stroke-width="1.1" fill="none"/>
<g font-family="'Liberation Sans', Arial, sans-serif" font-size="7.8" fill="#333" text-anchor="end">
<text x="943" y="77.17">10650</text>
<text x="943" y="94.8">10600</text>
<text x="943" y="112.43">10550</text>
<text x="943" y="130.06">10500</text>
<text x="943" y="147.69">10450</text>
<text x="943" y="165.31">10400</text>
<text x="943" y="182.94">10350</text>
<text x="943" y="200.57">10300</text>
<text x="943" y="218.2">10250</text>
<text x="943" y="235.83">10200</text>
<text x="943" y="253.46">10150</text>
<text x="943" y="271.08">10100</text>
<text x="943" y="288.71">10050</text>
<text x="943" y="306.34">10000</text>
<text x="943" y="323.97">9950</text>
<text x="943" y="341.6">9900</text>
<text x="943" y="359.23">9850</text>
<text x="943" y="376.86">9800</text>
<text x="943" y="394.48">9750</text>
<text x="943" y="412.11">9700</text>
<text x="943" y="429.74">9650</text>
<text x="943" y="447.37">9600</text>
<text x="943" y="465">9550</text>
<text x="943" y="32.8">50</text>
<text x="943" y="510.5">0</text>
</g>
<path d="M11.5 526V529.5M17.5 526V529.5M23.5 526V529.5M36.5 526V529.5M42.5 526V529.5M48.5 526V529.5M54.5 526V529.5M60.5 526V529.5M67.5 526V529.5M73.5 526V529.5M85.5 526V529.5M91.5 526V529.5M98.5 526V529.5M104.5 526V529.5M110.5 526V529.5M116.5 526V529.5M122.5 526V529.5M135.5 526V529.5M141.5 526V529.5M147.5 526V529.5M153.5 526V529.5M160.5 526V529.5M166.5 526V529.5M172.5 526V529.5M191.5 526V529.5M197.5 526V529.5M203.5 526V529.5M209.5 526V529.5M215.5 526V529.5M222.5 526V529.5M234.5 526V529.5M240.5 526V529.5M247.5 526V529.5M253.5 526V529.5M259.5 526V529.5M265.5 526V529.5M271.5 526V529.5M284.5 526V529.5M290.5 526V529.5M296.5 526V529.5M302.5 526V529.5M309.5 526V529.5M315.5 526V529.5M321.5 526V529.5M333.5 526V529.5M340.5 526V529.5M346.5 526V529.5M352.5 526V529.5M358.5 526V529.5M364.5 526V529.5M371.5 526V529.5M383.5 526V529.5M389.5 526V529.5M395.5 526V529.5M402.5 526V529.5M408.5 526V529.5M414.5 526V529.5M420.5 526V529.5M439.5 526V529.5M445.5 526V529.5M451.5 526V529.5M458.5 526V529.5M464.5 526V529.5M470.5 526V529.5M482.5 526V529.5M489.5 526V529.5M495.5 526V529.5M501.5 526V529.5M507.5 526V529.5M513.5 526V529.5M520.5 526V529.5M532.5 526V529.5M538.5 526V529.5M544.5 526V529.5M551.5 526V529.5M557.5 526V529.5M563.5 526V529.5M569.5 526V529.5M582.5 526V529.5M588.5 526V529.5M594.5 526V529.5M600.5 526V529.5M606.5 526V529.5M613.5 526V529.5M619.5 526V529.5M631.5 526V529.5M637.5 526V529.5M644.5 526V529.5M650.5 526V529.5M656.5 526V529.5M662.5 526V529.5M669.5 526V529.5M687.5 526V529.5M693.5 526V529.5M700.5 526V529.5M706.5 526V529.5M712.5 526V529.5M718.5 526V529.5M731.5 526V529.5M737.5 526V529.5M743.5 526V529.5M749.5 526V529.5M755.5 526V529.5M762.5 526V529.5M768.5 526V529.5M780.5 526V529.5M786.5 526V529.5M793.5 526V529.5M799.5 526V529.5M805.5 526V529.5M811.5 526V529.5M817.5 526V529.5M830.5 526V529.5M836.5 526V529.5M842.5 526V529.5M848.5 526V529.5M855.5 526V529.5M861.5 526V529.5M867.5 526V529.5M886.5 526V529.5M892.5 526V529.5M898.5 526V529.5M904.5 526V529.5M911.5 526V529.5" stroke="#444" stroke-width="1" fill="none"/>
<path d="M29.3 526V536.5M79.4 526V536.5M128.7 526V536.5M178.8 526V536.5M185.3 526V536.5M227.8 526V536.5M277.7 526V536.5M327.5 526V536.5M377.2 526V536.5M426.4 526V536.5M432.5 526V536.5M476.3 526V536.5M526 526V536.5M575.5 526V536.5M624.6 526V536.5M674.6 526V536.5M681.2 526V536.5M724.4 526V536.5M774 526V536.5M823.5 526V536.5M872.9 526V536.5M879.3 526V536.5M575.5 536V545" stroke="#444" stroke-width="1.4" fill="none"/>
<g font-family="'Liberation Sans', Arial, sans-serif" font-size="7.6" fill="#333">
<text x="30.9" y="534.2">16</text>
<text x="81" y="534.2">17</text>
<text x="130.3" y="534.2">18</text>
<text x="186.9" y="534.2">21</text>
<text x="229.4" y="534.2">22</text>
<text x="279.3" y="534.2">23</text>
<text x="329.1" y="534.2">24</text>
<text x="378.8" y="534.2">25</text>
<text x="434.1" y="534.2">28</text>
<text x="477.9" y="534.2">29</text>
<text x="527.6" y="534.2">30</text>
<text x="577.1" y="534.2">1</text>
<text x="626.2" y="534.2">2</text>
<text x="682.8" y="534.2">6</text>
<text x="726" y="534.2">7</text>
<text x="775.6" y="534.2">8</text>
<text x="825.1" y="534.2">9</text>
<text x="880.9" y="534.2">12</text>
<text x="576.5" y="543.6">July</text>
</g>
<rect x="914.6" y="527.5" width="30.4" height="16.3" fill="#dcdce0"/>
<g font-family="'Liberation Sans', Arial, sans-serif" font-size="7.7" font-weight="bold">
<text x="6.3" y="7.8" font-size="8.2"><tspan fill="#6a3030">(</tspan><tspan fill="#c83040">71.4187</tspan><tspan fill="#6a3030">)</tspan></text>
<text y="56" font-size="8.2"><tspan x="4.2" fill="#222" textLength="136.2" lengthAdjust="spacingAndGlyphs">216.34, 10,189.32, 10,194.24, -19.0693)</tspan><tspan x="145" fill="#aaa" font-weight="normal" textLength="28.6" lengthAdjust="spacingAndGlyphs">Alligator</tspan><tspan x="176.4" fill="#aaa" font-weight="normal">(</tspan><tspan x="179.2" fill="#3a9a3a" textLength="34.2" lengthAdjust="spacingAndGlyphs">10,164.40</tspan><tspan fill="#222">, </tspan><tspan x="218" fill="#d03040" textLength="34.2" lengthAdjust="spacingAndGlyphs">10,119.69</tspan><tspan fill="#222">, </tspan><tspan x="256.2" fill="#2a2aa0" textLength="33" lengthAdjust="spacingAndGlyphs">10,025.67</tspan><tspan x="292.8" fill="#aaa" font-weight="normal">)</tspan></text>
<text x="4.3" y="484" fill="#aaa" font-weight="normal">)</text>
</g>
<g transform="translate(0,2.2)"><rect x="924.4" y="0" width="8" height="7" fill="#e6e6e6"/><rect x="934" y="0" width="9.6" height="7" fill="#e6e6e6"/><rect x="925.6" y="1.4" width="5.4" height="4.0" fill="#fff" stroke="#333" stroke-width="1.0"/><rect x="925.6" y="1.4" width="5.4" height="1.3" fill="#333"/><path d="M932.8 0.2V6.8M943.5 0.2V6.8" stroke="#666" stroke-width="0.9"/><path d="M924.4 6.9H944" stroke="#bbb" stroke-width="0.8"/><path d="M937.0 1.6L940.6 5.0M940.6 1.6L937.0 5.0" stroke="#111" stroke-width="1.2"/></g>
<g transform="translate(0,50.6)"><rect x="924.4" y="0" width="8" height="7" fill="#e6e6e6"/><rect x="934" y="0" width="9.6" height="7" fill="#e6e6e6"/><rect x="925.6" y="1.4" width="5.4" height="4.0" fill="#fff" stroke="#333" stroke-width="1.0"/><rect x="925.6" y="1.4" width="5.4" height="1.3" fill="#333"/><path d="M932.8 0.2V6.8M943.5 0.2V6.8" stroke="#666" stroke-width="0.9"/><path d="M924.4 6.9H944" stroke="#bbb" stroke-width="0.8"/><path d="M937.0 1.6L940.6 5.0M940.6 1.6L937.0 5.0" stroke="#111" stroke-width="1.2"/></g>
<g transform="translate(0,477.2)"><rect x="924.4" y="0" width="8" height="7" fill="#e6e6e6"/><rect x="934" y="0" width="9.6" height="7" fill="#e6e6e6"/><rect x="925.6" y="1.4" width="5.4" height="4.0" fill="#fff" stroke="#333" stroke-width="1.0"/><rect x="925.6" y="1.4" width="5.4" height="1.3" fill="#333"/><path d="M932.8 0.2V6.8M943.5 0.2V6.8" stroke="#666" stroke-width="0.9"/><path d="M924.4 6.9H944" stroke="#bbb" stroke-width="0.8"/><path d="M937.0 1.6L940.6 5.0M940.6 1.6L937.0 5.0" stroke="#111" stroke-width="1.2"/></g>
<rect x="0" y="545" width="945" height="28" fill="#414141"/>
<text x="10.3" y="563.6" font-family="'DejaVu Sans', 'Liberation Sans', sans-serif" font-size="13.2" letter-spacing="0.14" fill="#ececec">Элитный Трейдер, ELITETRADER.RU</text>
<defs><linearGradient id="ga" x1="0" y1="0" x2="0" y2="1"><stop offset="0" stop-color="#c8ee70"/><stop offset="0.5" stop-color="#7cc828"/><stop offset="1" stop-color="#2e8a12"/></linearGradient><linearGradient id="go" x1="0" y1="0" x2="0" y2="1"><stop offset="0" stop-color="#ffe070"/><stop offset="0.5" stop-color="#ff9a20"/><stop offset="1" stop-color="#d84010"/></linearGradient><linearGradient id="gc" x1="0" y1="0" x2="1" y2="1"><stop offset="0" stop-color="#a8d040"/><stop offset="0.45" stop-color="#f8b020"/><stop offset="0.8" stop-color="#f07818"/><stop offset="1" stop-color="#e85868"/></linearGradient></defs>
<path d="M830.6 549.4L837.3 557.6H833.2V565.4H828.6V557.6H823.1Z" fill="url(#ga)"/>
<rect x="820.9" y="560.9" width="8.6" height="4.5" fill="url(#go)"/>
<circle cx="872.0" cy="558.6" r="7.2" fill="url(#gc)"/>
<g font-family="'Liberation Sans', Arial, sans-serif" font-weight="bold" fill="#fff">
<text x="841.6" y="563.2" font-size="15.5" letter-spacing="-0.6">clip</text>
<text x="871.8" y="563.2" font-size="11.5" text-anchor="middle">2</text>
<text x="880.0" y="563.2" font-size="15.5" letter-spacing="-0.9">net</text>
<text x="901.4" y="563.2" font-size="15.3" font-weight="normal" fill="#a2a2a2">.com</text>
</g>
</svg>
</body></html>
